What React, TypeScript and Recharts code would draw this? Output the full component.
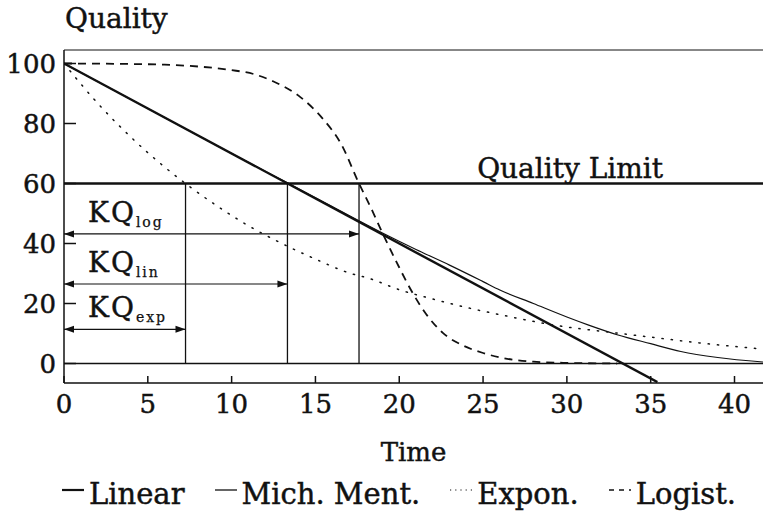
import React from "react";
import { ComposedChart, Line, XAxis, YAxis, ReferenceLine, Legend, Label } from "recharts";

// axis ticks
const xTicks = [0, 5, 10, 15, 20, 25, 30, 35, 40];
const yTicks = [0, 20, 40, 60, 80, 100];

// series (time, quality)
const linearTime = [0, 35.4];
const linearQuality = [100, -6.2];

const mmTime = [0, 5, 10, 13.33, 16, 19, 21, 23, 25, 26, 28, 30, 31.3, 33, 35, 36.8, 39, 41.7];
const mmQuality = [100, 85, 70, 60.2, 52.3, 43.5, 38, 32.8, 27.3, 24.5, 20, 15.5, 12.8, 9.6, 6.6, 4, 2, 0.5];

const expTime = [0, 2, 4, 6, 7.25, 9, 11.1, 13, 15, 17, 18.3, 20, 22, 24, 26.6, 29, 32.6, 35, 38, 41.7];
const expQuality = [100, 86.8, 75.4, 65.5, 60, 53, 45.6, 40, 34.8, 30.2, 28.2, 24.6, 21.5, 18.7, 15.6, 13, 10.4, 8.8, 6.8, 4.8];

const logTime = [0, 3, 6, 8, 10, 11.3, 12.5, 14.1, 15.5, 16.5, 17.6, 18.3, 19, 20, 20.7, 21.6, 22.6, 23.8, 25, 26.2, 28, 30, 33];
const logQuality = [100, 99.9, 99.6, 99, 97.8, 96.5, 94, 88.8, 81.2, 73.5, 60, 52, 43.5, 32, 24.5, 16.5, 10.2, 6, 3.5, 1.8, 0.6, 0.2, 0];

// critical times and arrow heights
const qualityLimit = 60;
const kqExp = 7.25;
const kqLin = 13.33;
const kqLog = 17.6;
const arrowLog = 43.2;
const arrowLin = 26.5;
const arrowExp = 11.4;

const toPoints = (ts: number[], qs: number[]) => ts.map((t, i) => ({ t, q: qs[i] }));

const linearData = toPoints(linearTime, linearQuality);
const mmData = toPoints(mmTime, mmQuality);
const expData = toPoints(expTime, expQuality);
const logData = toPoints(logTime, logQuality);

const FONT = "DejaVu Serif";
const INK = "#111";
// a hairline outline makes the type look as heavy as the scan
const heavy = { stroke: INK, strokeWidth: 0.45 };

function arrowDot(sub: string) {
  return (props: any) => {
    const { cx, cy, index } = props;
    if (cx == null || cy == null) return <g key={`${sub}-${index}`} />;
    const head =
      index === 0
        ? `${cx},${cy} ${cx + 10},${cy - 3.5} ${cx + 10},${cy + 3.5}`
        : `${cx},${cy} ${cx - 10},${cy - 3.5} ${cx - 10},${cy + 3.5}`;
    return (
      <g key={`${sub}-${index}`}>
        <polygon points={head} fill={INK} />
        {index === 0 && (
          <text x={cx + 24} y={cy - 12} fontFamily={FONT} fontSize={28} fill={INK} letterSpacing={2} {...heavy}>
            KQ
            <tspan fontSize={14} dy={5} strokeWidth={0.25}>{sub}</tspan>
          </text>
        )}
      </g>
    );
  };
}

const legendItems = [
  { name: "Linear", dash: undefined, width: 2.2 },
  { name: "Mich. Ment.", dash: undefined, width: 1.3 },
  { name: "Expon.", dash: "1.2 4", width: 1.2 },
  { name: "Logist.", dash: "5 5", width: 1.6 },
];

function LegendRow() {
  return (
    <div
      style={{
        height: 40,
        display: "flex",
        alignItems: "center",
        fontFamily: FONT,
        fontSize: 29,
        color: INK,
        paddingLeft: 62,
        whiteSpace: "nowrap",
        WebkitTextStroke: "0.45px #111",
      }}
    >
      {legendItems.map((it, i) => (
        <span
          key={it.name}
          style={{ display: "inline-flex", alignItems: "center", marginRight: i < legendItems.length - 1 ? 30 : 0 }}
        >
          <svg width={22} height={20} style={{ marginRight: 5 }}>
            <line x1={0} x2={22} y1={6} y2={6} stroke={INK} strokeWidth={it.width} strokeDasharray={it.dash} />
          </svg>
          {it.name}
        </span>
      ))}
    </div>
  );
}

export default function App() {
  return (
    <div style={{ position: "absolute", left: 0, top: 0, background: "#fff" }}>
      <ComposedChart width={763} height={519} margin={{ top: 50, right: 0, bottom: 5, left: 0 }}>
        <XAxis
          type="number"
          dataKey="t"
          domain={[0, 41.7]}
          ticks={xTicks}
          allowDataOverflow
          height={91}
          tickSize={-7}
          tickMargin={19}
          stroke={INK}
          strokeWidth={1.5}
          tick={{ fill: INK, fontFamily: FONT, fontSize: 26, ...heavy }}
        >
          <Label
            content={({ viewBox }: any) => (
              <text
                x={viewBox.x + viewBox.width / 2}
                y={viewBox.y + 78}
                textAnchor="middle"
                fontFamily={FONT}
                fontSize={26}
                fill={INK}
                {...heavy}
              >
                Time
              </text>
            )}
          />
        </XAxis>
        <YAxis
          type="number"
          domain={[-6.5, 104.5]}
          ticks={yTicks}
          allowDataOverflow
          width={64}
          tickSize={-12}
          tickMargin={20}
          stroke={INK}
          strokeWidth={1.5}
          tick={{ fill: INK, fontFamily: FONT, fontSize: 26, ...heavy }}
        >
          <Label
            content={({ viewBox }: any) => (
              <text x={viewBox.x + viewBox.width + 1} y={viewBox.y - 22} fontFamily={FONT} fontSize={28} fill={INK} {...heavy}>
                Quality
              </text>
            )}
          />
        </YAxis>
        <Legend verticalAlign="bottom" content={() => <LegendRow />} />

        <ReferenceLine y={104.5} stroke={INK} strokeWidth={1} ifOverflow="visible" />
        <ReferenceLine y={0} stroke={INK} strokeWidth={1.5} />
        <ReferenceLine y={qualityLimit} stroke={INK} strokeWidth={2.5}>
          <Label
            content={({ viewBox }: any) => (
              <text
                x={viewBox.x + viewBox.width - 100}
                y={viewBox.y - 6}
                textAnchor="end"
                fontFamily={FONT}
                fontSize={28}
                fill={INK}
                {...heavy}
              >
                Quality Limit
              </text>
            )}
          />
        </ReferenceLine>
        <ReferenceLine segment={[{ x: kqExp, y: 0 }, { x: kqExp, y: qualityLimit }]} stroke={INK} strokeWidth={1.3} />
        <ReferenceLine segment={[{ x: kqLin, y: 0 }, { x: kqLin, y: qualityLimit }]} stroke={INK} strokeWidth={1.3} />
        <ReferenceLine segment={[{ x: kqLog, y: 0 }, { x: kqLog, y: qualityLimit }]} stroke={INK} strokeWidth={1.3} />

        <Line
          data={[{ t: 0, q: arrowLog }, { t: kqLog, q: arrowLog }]}
          dataKey="q"
          type="linear"
          stroke={INK}
          strokeWidth={1.2}
          dot={arrowDot("log")}
          activeDot={false}
          isAnimationActive={false}
          legendType="none"
        />
        <Line
          data={[{ t: 0, q: arrowLin }, { t: kqLin, q: arrowLin }]}
          dataKey="q"
          type="linear"
          stroke={INK}
          strokeWidth={1.2}
          dot={arrowDot("lin")}
          activeDot={false}
          isAnimationActive={false}
          legendType="none"
        />
        <Line
          data={[{ t: 0, q: arrowExp }, { t: kqExp, q: arrowExp }]}
          dataKey="q"
          type="linear"
          stroke={INK}
          strokeWidth={1.2}
          dot={arrowDot("exp")}
          activeDot={false}
          isAnimationActive={false}
          legendType="none"
        />

        <Line data={expData} dataKey="q" type="monotone" stroke={INK} strokeWidth={1.5} strokeDasharray="1.3 8" strokeLinecap="round" dot={false} activeDot={false} isAnimationActive={false} name="Expon." />
        <Line data={logData} dataKey="q" type="monotone" stroke={INK} strokeWidth={1.8} strokeDasharray="8 6" dot={false} activeDot={false} isAnimationActive={false} name="Logist." />
        <Line data={mmData} dataKey="q" type="monotone" stroke={INK} strokeWidth={1.2} dot={false} activeDot={false} isAnimationActive={false} name="Mich. Ment." />
        <Line data={linearData} dataKey="q" type="linear" stroke={INK} strokeWidth={2.4} dot={false} activeDot={false} isAnimationActive={false} name="Linear" />
      </ComposedChart>
    </div>
  );
}
